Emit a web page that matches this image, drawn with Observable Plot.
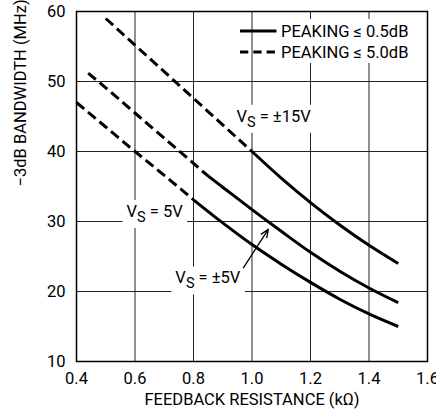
<!DOCTYPE html>
<html>
<head>
<meta charset="utf-8">
<script src="https://cdn.jsdelivr.net/npm/d3@7"></script>
<script src="https://cdn.jsdelivr.net/npm/@observablehq/plot@0.6"></script>
<style>
  html, body { margin: 0; padding: 0; background: #fff; }
  #wrap { position: relative; width: 436px; height: 419px; overflow: hidden; background: #fff; }
  #legend { position: absolute; left: 0; top: 0; pointer-events: none; }
</style>
</head>
<body>
<div id="wrap"></div>
<script>
// ---- tick labels ----
const xTicks = [0.4, 0.6, 0.8, 1.0, 1.2, 1.4, 1.6];
const yTicks = [10, 20, 30, 40, 50, 60];
const xLabel = "FEEDBACK RESISTANCE (kΩ)";
const yLabel = "−3dB BANDWIDTH (MHz)";

// ---- series: VS = ±15V ----
const pm15_peak5_x  = [0.5, 0.6, 0.7, 0.8, 0.9, 1.0];
const pm15_peak5_y  = [59, 55.2, 51.4, 47.6, 43.8, 40];
const pm15_peak05_x = [1.0, 1.1, 1.2, 1.3, 1.4, 1.5];
const pm15_peak05_y = [40, 36.2, 32.7, 29.5, 26.6, 24];

// ---- series: VS = ±5V ----
const pm5_peak5_x  = [0.44, 0.5, 0.6, 0.7, 0.8, 0.85];
const pm5_peak5_y  = [51.2, 49.1, 45.5, 41.9, 38.3, 36.5];
const pm5_peak05_x = [0.85, 0.9, 1.0, 1.1, 1.2, 1.3, 1.4, 1.5];
const pm5_peak05_y = [36.5, 34.9, 31.7, 28.6, 25.6, 22.9, 20.5, 18.4];

// ---- series: VS = 5V ----
const p5_peak5_x  = [0.4, 0.5, 0.6, 0.7, 0.8];
const p5_peak5_y  = [47, 43.5, 40, 36.6, 33.1];
const p5_peak05_x = [0.8, 0.9, 1.0, 1.1, 1.2, 1.3, 1.4, 1.5];
const p5_peak05_y = [33.1, 29.8, 26.7, 23.9, 21.3, 18.9, 16.8, 15.0];

// ---- annotations ----
const supplyLabels = ["VS = ±15V", "VS = 5V", "VS = ±5V"];
const supplyLabelX = [0.947, 0.571, 0.738];
const supplyLabelY = [45.0, 31.4, 21.9];
const arrowFrom = [0.971, 23.4];
const arrowTo   = [1.056, 28.9];

// ---- legend ----
const legendLabels = ["PEAKING ≤ 0.5dB", "PEAKING ≤ 5.0dB"];
const legendDash = [null, "8.3,5"];

// build tables
function rows(supply, peak, xs, ys) { return xs.map((x, i) => ({supply, peak, x, y: ys[i]})); }
const solid = [
  ...rows("±15V", "0.5", pm15_peak05_x, pm15_peak05_y),
  ...rows("±5V", "0.5", pm5_peak05_x, pm5_peak05_y),
  ...rows("5V", "0.5", p5_peak05_x, p5_peak05_y)
];
const dashed = [
  ...rows("±15V", "5.0", pm15_peak5_x, pm15_peak5_y),
  ...rows("±5V", "5.0", pm5_peak5_x, pm5_peak5_y),
  ...rows("5V", "5.0", p5_peak5_x, p5_peak5_y)
];
const labels = supplyLabels.map((t, i) => ({t, x: supplyLabelX[i], y: supplyLabelY[i]}));

const FONT = "Roboto, 'Liberation Sans', Arial, sans-serif";
const FS = 16.5;

const plot = Plot.plot({
  width: 436,
  height: 419,
  marginLeft: 76,
  marginRight: 9,
  marginTop: 11,
  marginBottom: 58,
  style: {fontFamily: FONT, fontSize: FS + "px", color: "#000", background: "#fff"},
  x: {domain: [0.4, 1.6]},
  y: {domain: [10, 60]},
  marks: [
    Plot.gridX(xTicks, {stroke: "#222", strokeOpacity: 1, strokeWidth: 1}),
    Plot.gridY(yTicks, {stroke: "#222", strokeOpacity: 1, strokeWidth: 1}),
    Plot.axisX(xTicks, {tickSize: 0, tickPadding: 11, tickFormat: d => d.toFixed(1), label: null, fill: "#000"}),
    Plot.axisY(yTicks, {tickSize: 0, tickPadding: 11, label: null, fill: "#000"}),
    Plot.text([xLabel], {frameAnchor: "bottom", dy: 43, fill: "#000"}),
    Plot.text([yLabel], {frameAnchor: "left", dx: -56, rotate: -90, fill: "#000"}),
    Plot.text(labels, {x: "x", y: "y", text: "t", textAnchor: "start", fill: "#000", className: "vs-label"}),
    Plot.line(dashed, {x: "x", y: "y", z: "supply", curve: "monotone-x", stroke: "#000", strokeWidth: 3, strokeDasharray: "10,5", strokeLinecap: "butt"}),
    Plot.line(solid, {x: "x", y: "y", z: "supply", curve: "monotone-x", stroke: "#000", strokeWidth: 3, strokeLinecap: "butt"}),
    Plot.arrow([{x1: arrowFrom[0], y1: arrowFrom[1], x2: arrowTo[0], y2: arrowTo[1]}],
      {x1: "x1", y1: "y1", x2: "x2", y2: "y2", stroke: "#000", strokeWidth: 1.3, headLength: 10, headAngle: 45}),
    Plot.frame({stroke: "#000", strokeWidth: 1.5})
  ]
});

const wrap = document.getElementById("wrap");
wrap.appendChild(plot);

const NS = "http://www.w3.org/2000/svg";
// subscript S + white box behind labels
plot.querySelectorAll("g.vs-label text").forEach(t => {
  const s = t.textContent;
  const rest = s.slice(2);
  t.textContent = "";
  const a = document.createElementNS(NS, "tspan"); a.textContent = s[0];
  const b = document.createElementNS(NS, "tspan"); b.textContent = s[1];
  b.setAttribute("dy", "5"); b.setAttribute("font-size", "14.5");
  const c = document.createElementNS(NS, "tspan"); c.textContent = rest;
  c.setAttribute("dy", "-5");
  t.append(a, b, c);
  const bb = t.getBBox();
  const r = document.createElementNS(NS, "rect");
  r.setAttribute("x", bb.x - 4); r.setAttribute("y", bb.y - 2);
  r.setAttribute("width", bb.width + 8); r.setAttribute("height", bb.height + 4);
  r.setAttribute("fill", "#fff");
  if (t.getAttribute("transform")) r.setAttribute("transform", t.getAttribute("transform"));
  t.parentNode.insertBefore(r, t);
});

// legend overlay
const leg = d3.select(wrap).append("svg").attr("id", "legend").attr("width", 436).attr("height", 419);
leg.append("rect").attr("x", 278).attr("y", 19).attr("width", 138).attr("height", 44).attr("fill", "#fff");
legendLabels.forEach((lab, i) => {
  const cy = 31 + 21 * i;
  const ln = leg.append("line").attr("x1", 240).attr("x2", 276.5).attr("y1", cy).attr("y2", cy)
    .attr("stroke", "#000").attr("stroke-width", 3);
  if (legendDash[i]) ln.attr("stroke-dasharray", legendDash[i]);
  leg.append("text").attr("x", 281).attr("y", cy).attr("dy", "0.35em")
    .attr("font-family", FONT).attr("font-size", FS).attr("fill", "#000").text(lab);
});
</script>
</body>
</html>
